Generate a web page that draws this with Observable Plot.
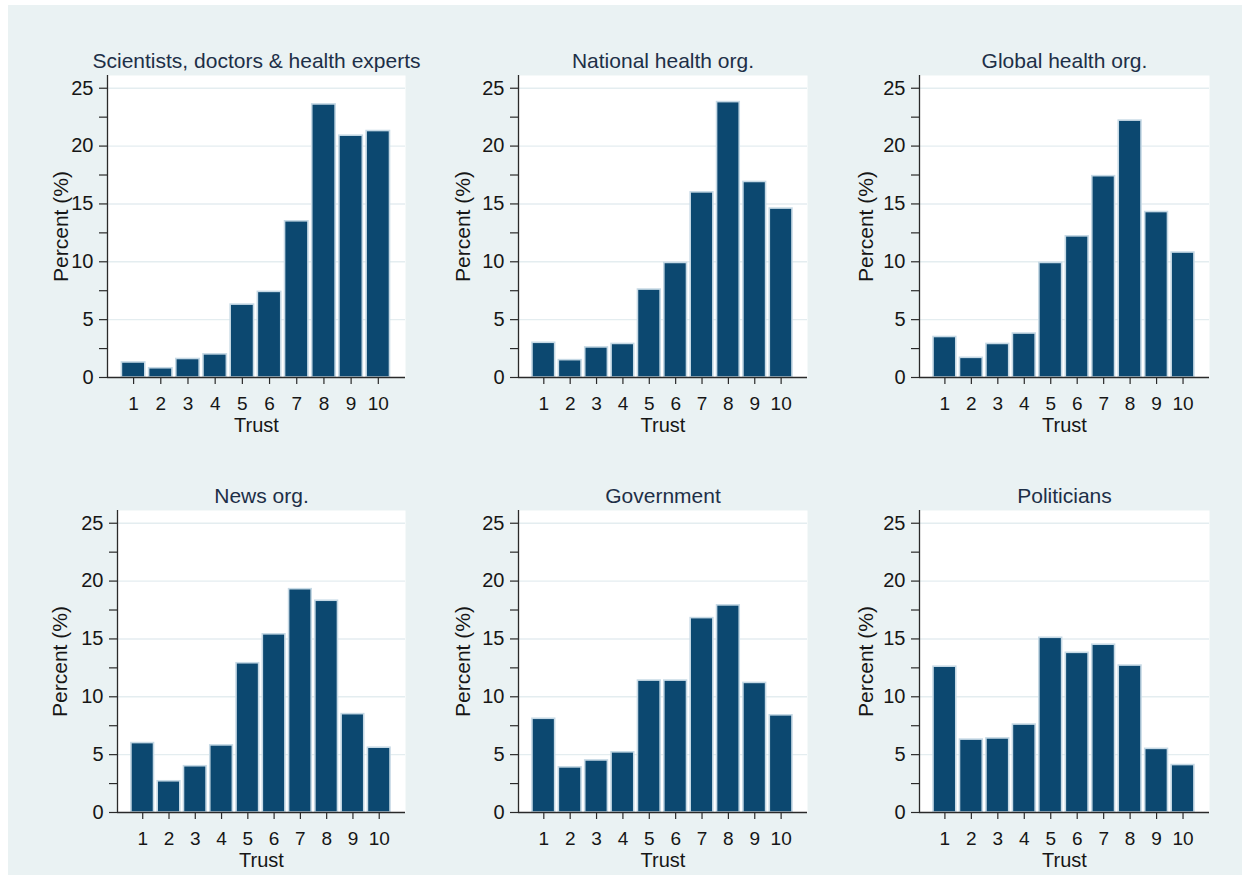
<!DOCTYPE html>
<html>
<head>
<meta charset="utf-8">
<script src="https://cdn.jsdelivr.net/npm/d3@7"></script>
<script src="https://cdn.jsdelivr.net/npm/@observablehq/plot@0.6"></script>
<style>
  html, body { margin: 0; padding: 0; background: #ffffff; }
  body { width: 1247px; height: 875px; position: relative; overflow: hidden;
         font-family: "Liberation Sans", Arial, sans-serif; }
  #bg { position: absolute; left: 8px; top: 5px; width: 1234px; height: 870px; background: #eaf2f3; }
  .panel { position: absolute; }
  .panel svg { overflow: visible; }
</style>
</head>
<body>
<div id="bg"></div>
<div id="root"></div>
<script>
// ---- data ----
const trust = [1, 2, 3, 4, 5, 6, 7, 8, 9, 10];
const panelTitles = [
  "Scientists, doctors & health experts",
  "National health org.",
  "Global health org.",
  "News org.",
  "Government",
  "Politicians"
];
const scientists = [1.3, 0.8, 1.6, 2.0, 6.3, 7.4, 13.5, 23.6, 20.9, 21.3];
const nationalHealth = [3.0, 1.5, 2.6, 2.9, 7.6, 9.9, 16.0, 23.8, 16.9, 14.6];
const globalHealth = [3.5, 1.7, 2.9, 3.8, 9.9, 12.2, 17.4, 22.2, 14.3, 10.8];
const newsOrg = [6.0, 2.7, 4.0, 5.8, 12.9, 15.4, 19.3, 18.3, 8.5, 5.6];
const government = [8.1, 3.9, 4.5, 5.2, 11.4, 11.4, 16.8, 17.9, 11.2, 8.4];
const politicians = [12.6, 6.3, 6.4, 7.6, 15.1, 13.8, 14.5, 12.7, 5.5, 4.1];
const yTicks = [0, 5, 10, 15, 20, 25];
const yMinorTicks = [2.5, 7.5, 12.5, 17.5, 22.5];
const yLabel = "Percent (%)";
const xLabel = "Trust";

const seriesList = [scientists, nationalHealth, globalHealth, newsOrg, government, politicians];

// ---- layout (page pixels) ----
const layout = [
  {axisX: 107, right: 405, top: 75,  bottom: 377, ylab: 61},
  {axisX: 518, right: 807, top: 75,  bottom: 377, ylab: 463},
  {axisX: 919, right: 1209, top: 75, bottom: 377, ylab: 866},
  {axisX: 117, right: 405, top: 510, bottom: 812, ylab: 60},
  {axisX: 518, right: 807, top: 510, bottom: 812, ylab: 463},
  {axisX: 919, right: 1209, top: 510, bottom: 812, ylab: 866}
];

const font = '"Liberation Sans", Arial, sans-serif';
const barFill = "#0c4870";
const barStroke = "#c6d9e5";
const gridColor = "#e4edf0";
const axisColor = "#2a2a2a";
const titleColor = "#1d2f47";
const textColor = "#161616";

const mL = 80, mR = 4, mT = 40, mB = 60;
const xMin = 0.04, xMax = 11;

const root = document.getElementById("root");

seriesList.forEach((series, k) => {
  const L = layout[k];
  const data = trust.map((t, i) => ({trust: t, pct: series[i]}));
  const width = mL + (L.right - L.axisX) + mR;
  const height = mT + (L.bottom - L.top) + mB;
  const chart = Plot.plot({
    width, height,
    marginLeft: mL, marginRight: mR, marginTop: mT, marginBottom: mB,
    style: {background: "transparent", fontFamily: font, color: textColor, overflow: "visible"},
    x: {domain: [xMin, xMax], axis: null},
    y: {domain: [0, 26.1], axis: null},
    marks: [
      Plot.frame({fill: "white", stroke: null}),
      Plot.gridY(yTicks.slice(1), {stroke: gridColor, strokeOpacity: 1, strokeWidth: 1.4}),
      Plot.rectY(data, {
        x1: d => d.trust - 0.43, x2: d => d.trust + 0.43,
        y1: 0, y2: "pct",
        fill: barFill, stroke: barStroke, strokeWidth: 1.6
      }),
      Plot.axisY(yMinorTicks, {tickSize: 8, tickFormat: () => "", label: null, stroke: axisColor, strokeWidth: 1.2}),
      Plot.axisY(yTicks, {tickSize: 8, tickPadding: 6, fontSize: 20, label: null, stroke: axisColor, strokeWidth: 1.2, fill: textColor}),
      Plot.axisX(trust, {tickSize: 7, tickPadding: 12, fontSize: 19, label: null, stroke: axisColor, strokeWidth: 1.2, fill: textColor}),
      Plot.ruleX([xMin], {stroke: axisColor, strokeWidth: 1.3}),
      Plot.ruleY([0], {stroke: axisColor, strokeWidth: 1.3}),
      Plot.text([panelTitles[k]], {frameAnchor: "top", dy: -8, lineAnchor: "bottom", textAnchor: "middle", fontSize: 21, fill: titleColor}),
      Plot.text([yLabel], {frameAnchor: "left", dx: -(L.axisX - L.ylab), rotate: -90, textAnchor: "middle", lineAnchor: "middle", fontSize: 21, fill: textColor}),
      Plot.text([xLabel], {frameAnchor: "bottom", dy: 54, lineAnchor: "bottom", textAnchor: "middle", fontSize: 20, fill: textColor})
    ]
  });
  const div = document.createElement("div");
  div.className = "panel";
  div.style.left = (L.axisX - mL) + "px";
  div.style.top = (L.top - mT) + "px";
  div.appendChild(chart);
  root.appendChild(div);
});
</script>
</body>
</html>
